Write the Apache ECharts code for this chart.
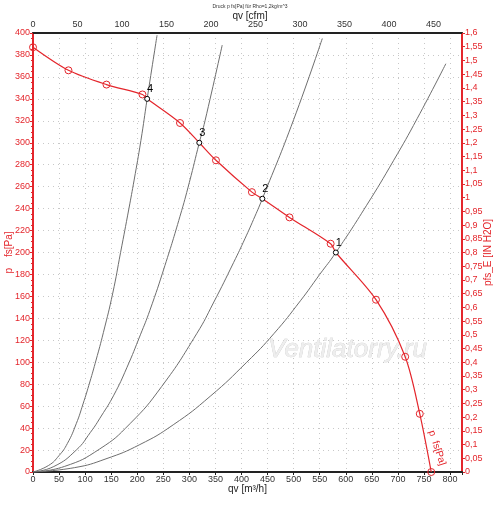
<!DOCTYPE html>
<html>
<head>
<meta charset="utf-8">
<script src="https://cdn.jsdelivr.net/npm/echarts@6/dist/echarts.min.js"></script>
<style>
  html, body { margin: 0; padding: 0; background: #fff; }
  #chart { width: 500px; height: 505px; }
</style>
</head>
<body>
<div id="chart"></div>
<script>
// fan curve, circles [qv m3/h, p Pa]
var fanCurve = [[0, 387], [68, 366], [141, 353], [210, 344], [282, 318], [351, 284], [420, 255],
                [492, 232], [571, 208], [658, 157], [714, 105], [742, 53], [764, 0]];
// operating points 1..4
var opLabels = ['1', '2', '3', '4'];
var opPoints = [[581, 200], [440, 249], [319, 300], [219, 340]];

// system curves (gray)
var sysCurve1 = [[0, 0], [80, 4], [140, 12], [205, 25], [269, 43], [340, 69], [410, 100], [462, 126],
                 [513, 156], [550, 180], [581, 200], [640, 243], [692, 284], [737, 322], [792, 372]];
var sysCurve2 = [[0, 0], [60, 5], [128, 21], [186, 44], [247, 78], [314, 126], [346, 154], [385, 191],
                 [407, 213], [423, 230], [440, 249], [500, 321], [555, 395]];
var sysCurve3 = [[0, 0], [40, 5], [83, 20], [110, 36], [131, 51], [155, 70], [180, 95], [206, 125],
                 [224, 147], [253, 188], [282, 233], [300, 264], [319, 300], [330, 320], [363, 389]];
var sysCurve4 = [[0, 0], [30, 6], [50, 15], [66, 26], [83, 44], [96, 62], [109, 82], [121, 102],
                 [135, 127], [153, 163], [168, 200], [184, 240], [194, 266], [207, 302], [219, 340], [238, 398]];

// axes
var qvMax = 823;      // m3/h at right edge
var cfmMax = 482;     // cfm at right edge
var pMax = 400;
var inMax = 1.6;

var RED = '#e4262c';

// red line goes through circles and operating points
var fanLine = fanCurve.map(function (d) { return {value: d}; })
    .concat(opPoints.map(function (d) { return {value: d, symbol: 'none'}; }))
    .sort(function (a, b) { return a.value[0] - b.value[0]; });

function grayLine(data) {
    return {
        type: 'line',
        data: data,
        smooth: 0.5,
        showSymbol: false,
        silent: true,
        lineStyle: {color: '#6e6e6e', width: 1},
        z: 2
    };
}

var myChart = echarts.init(document.getElementById('chart'));

var option = {
    animation: false,
    backgroundColor: '#fff',
    textStyle: {fontFamily: 'Arial, "Liberation Sans", sans-serif'},
    grid: {left: 33, right: 38, top: 33, bottom: 33, containLabel: false, outerBoundsMode: 'none'},
    title: {
        text: 'Druck p fs[Pa] für Rho=1,2kg/m^3',
        left: 'center',
        top: -1,
        textStyle: {fontSize: 5, fontWeight: 'normal', color: '#333'}
    },
    graphic: [
        {
            type: 'text', left: 'center', top: 11,
            style: {text: 'qv [cfm]', font: '10px Arial', fill: '#222'}
        },
        {
            type: 'text', x: 268, y: 337,
            style: {
                text: 'Ventilatorry.ru', font: 'italic 26px Arial', fill: '#eeeeee',
                stroke: '#c4c4c4', lineWidth: 0.5,
                shadowColor: 'rgba(0,0,0,0.28)', shadowOffsetX: 1, shadowOffsetY: 1, shadowBlur: 1
            },
            z: 1
        },
        {
            type: 'text', x: 436, y: 429, rotation: -1.25,
            style: {text: 'p  fs[Pa]', font: '10px Arial', fill: RED}
        }
    ],
    xAxis: [
        {
            type: 'value', position: 'bottom', min: 0, max: qvMax, interval: 50,
            name: 'qv [m³/h]', nameLocation: 'middle', nameGap: 12, nameMoveOverlap: false,
            nameTextStyle: {color: '#222', fontSize: 10},
            axisLine: {show: true, onZero: false, lineStyle: {color: '#222', width: 2}},
            axisTick: {show: true, length: 3, lineStyle: {color: '#222'}},
            axisLabel: {
                color: '#333', fontSize: 9, margin: 3,
                formatter: function (v) { return v % 50 === 0 ? String(v) : ''; }
            },
            splitLine: {show: true, lineStyle: {color: '#c8c8c8', type: [1, 4], width: 1}}
        },
        {
            type: 'value', position: 'top', min: 0, max: cfmMax, interval: 50,
            axisLine: {show: true, onZero: false, lineStyle: {color: '#222', width: 2}},
            axisTick: {show: false},
            axisLabel: {
                color: '#333', fontSize: 9, margin: 4,
                formatter: function (v) { return v % 50 === 0 ? String(v) : ''; }
            },
            splitLine: {show: false}
        }
    ],
    yAxis: [
        {
            type: 'value', position: 'left', min: 0, max: pMax, interval: 20,
            name: 'p    fs[Pa]', nameLocation: 'middle', nameRotate: 90, nameGap: 19, nameMoveOverlap: false,
            nameTextStyle: {color: RED, fontSize: 10},
            axisLine: {show: true, onZero: false, lineStyle: {color: RED, width: 2}},
            axisTick: {show: true, length: 3, lineStyle: {color: RED}},
            minorTick: {show: true, splitNumber: 4, length: 2, lineStyle: {color: RED}},
            axisLabel: {color: RED, fontSize: 9, margin: 3},
            splitLine: {show: true, lineStyle: {color: '#c8c8c8', type: [1, 4], width: 1}}
        },
        {
            type: 'value', position: 'right', min: 0, max: inMax, interval: 0.05,
            name: 'pfs_E [IN H2O]', nameLocation: 'middle', nameRotate: 90, nameGap: 21, nameMoveOverlap: false,
            nameTextStyle: {color: RED, fontSize: 10},
            axisLine: {show: true, onZero: false, lineStyle: {color: RED, width: 2}},
            axisTick: {show: true, length: 3, lineStyle: {color: RED}},
            axisLabel: {
                color: RED, fontSize: 9, margin: 3,
                formatter: function (v) { return String(+v.toFixed(2)).replace('.', ','); }
            },
            splitLine: {show: false}
        }
    ],
    series: [
        grayLine(sysCurve1),
        grayLine(sysCurve2),
        grayLine(sysCurve3),
        grayLine(sysCurve4),
        {
            type: 'line',
            data: fanLine,
            smooth: 0.3,
            symbol: 'circle',
            symbolSize: 7,
            showAllSymbol: true,
            lineStyle: {color: RED, width: 1.2},
            itemStyle: {color: 'rgba(255,255,255,0)', borderColor: RED, borderWidth: 1},
            z: 4
        },
        {
            type: 'scatter',
            data: opPoints.map(function (d, i) { return {value: d, name: opLabels[i]}; }),
            symbol: 'circle',
            symbolSize: 5,
            itemStyle: {color: '#fff', borderColor: '#000', borderWidth: 1, opacity: 1},
            label: {
                show: true, position: 'top', distance: 1, offset: [3, 0],
                formatter: '{b}', color: '#000', fontSize: 11
            },
            z: 5
        }
    ]
};

myChart.setOption(option);
</script>
</body>
</html>
